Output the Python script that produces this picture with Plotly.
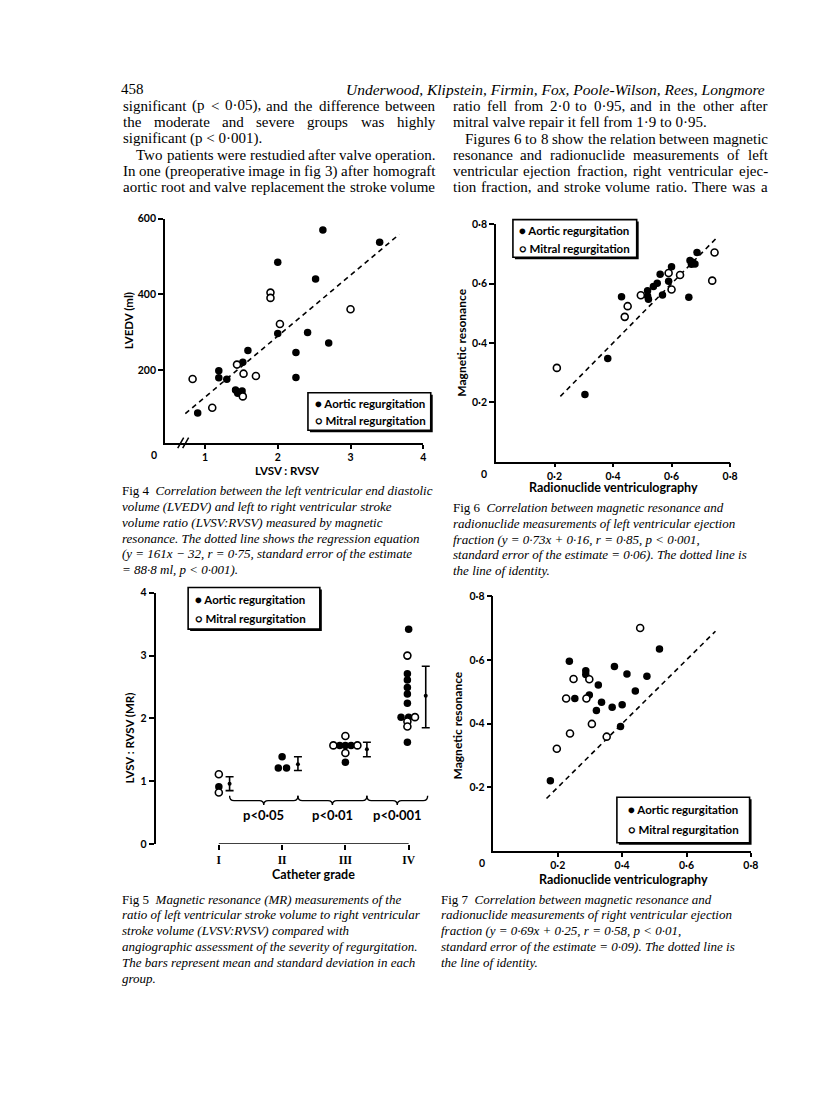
import plotly.graph_objects as go

W, H = 816, 1093
SANS = "Lato"
SERIF = "Liberation Serif"

# ------------------------------------------------------------------ data
# Fig 4 : LVEDV (ml) against LVSV:RVSV
f4_aortic_x = [2.00, 2.62, 3.40, 2.52, 2.00, 2.41, 2.70, 2.25, 2.25, 1.59, 1.52, 1.19, 1.19, 1.30, 1.42, 1.45, 1.51, 0.90]
f4_aortic_y = [485, 570, 538, 441, 297, 300, 272, 247, 181, 252, 221, 199, 180, 176, 148, 139, 145, 87]
f4_mitral_x = [1.90, 1.90, 2.03, 3.00, 1.44, 1.53, 1.70, 0.83, 1.10, 1.52]
f4_mitral_y = [405, 391, 322, 361, 215, 191, 185, 177, 101, 131]
f4_reg_slope, f4_reg_icpt = 161, -32
f4_reg_x = [0.73, 3.67]
f4_xticks = [1, 2, 3, 4]
f4_yticks = [200, 400, 600]

# Fig 6 : LV ejection fraction, MR vs radionuclide
f6_aortic_x = [0.304, 0.382, 0.429, 0.518, 0.518, 0.521, 0.538, 0.551, 0.561, 0.569, 0.590, 0.600, 0.659, 0.663, 0.672, 0.680, 0.668, 0.687]
f6_aortic_y = [0.226, 0.348, 0.556, 0.576, 0.558, 0.547, 0.590, 0.601, 0.632, 0.562, 0.608, 0.657, 0.554, 0.678, 0.672, 0.666, 0.665, 0.705]
f6_mitral_x = [0.208, 0.440, 0.450, 0.495, 0.590, 0.600, 0.629, 0.739, 0.747]
f6_mitral_y = [0.316, 0.488, 0.524, 0.561, 0.636, 0.580, 0.629, 0.610, 0.705]
f6_ident = [0.22, 0.755]

# Fig 5 : LVSV:RVSV (MR) by catheter grade
f5_grade_vals = [1, 2, 3, 4]
f5_grade_text = ["I", "II", "III", "IV"]
f5_aortic_x = [1.00, 2.00, 1.94, 2.07, 2.91, 3.00, 3.09, 3.00, 4.00, 3.98, 3.98, 3.98, 3.98, 3.98, 3.88, 4.00, 3.98]
f5_aortic_y = [0.91, 1.39, 1.21, 1.21, 1.57, 1.57, 1.57, 1.30, 3.42, 2.71, 2.61, 2.49, 2.39, 2.24, 2.02, 2.02, 1.62]
f5_mitral_x = [1.00, 1.00, 2.81, 3.19, 3.00, 3.00, 3.98, 4.10, 3.98, 3.98]
f5_mitral_y = [1.11, 0.82, 1.57, 1.57, 1.72, 1.45, 3.00, 2.02, 1.95, 1.87]
f5_bar_x = [1.17, 2.25, 3.34, 4.27]
f5_mean = [0.96, 1.27, 1.51, 2.36]
f5_sd_up = [0.11, 0.12, 0.11, 0.47]
f5_sd_down = [0.11, 0.10, 0.12, 0.51]
f5_p_text = ["p<0·05", "p<0·01", "p<0·001"]

# Fig 7 : RV ejection fraction, MR vs radionuclide
f7_aortic_x = [0.177, 0.253, 0.236, 0.287, 0.287, 0.298, 0.326, 0.320, 0.336, 0.376, 0.369, 0.400, 0.395, 0.415, 0.441, 0.477, 0.516]
f7_aortic_y = [0.221, 0.479, 0.596, 0.566, 0.554, 0.490, 0.521, 0.441, 0.467, 0.579, 0.451, 0.459, 0.391, 0.556, 0.502, 0.549, 0.634]
f7_mitral_x = [0.197, 0.238, 0.226, 0.249, 0.289, 0.298, 0.306, 0.352, 0.456]
f7_mitral_y = [0.321, 0.369, 0.479, 0.540, 0.479, 0.539, 0.399, 0.359, 0.700]
f7_ident = [0.165, 0.69]

ef_ticks = [0.2, 0.4, 0.6, 0.8]
ef_ticktext = ["0·2", "0·4", "0·6", "0·8"]

# ------------------------------------------------------------------ page text
body_left = [
    "significant (p < 0·05), and the difference between",
    "the moderate and severe groups was highly",
    "significant (p < 0·001).",
    "Two patients were restudied after valve operation.",
    "In one (preoperative image in fig 3) after homograft",
    "aortic root and valve replacement the stroke volume",
]
body_right = [
    "ratio fell from 2·0 to 0·95, and in the other after",
    "mitral valve repair it fell from 1·9 to 0·95.",
    "Figures 6 to 8 show the relation between magnetic",
    "resonance and radionuclide measurements of left",
    "ventricular ejection fraction, right ventricular ejec-",
    "tion fraction, and stroke volume ratio. There was a",
]
body_left_indent = [False, False, False, True, False, False]
body_left_justify = [True, True, False, True, True, True]
body_right_indent = [False, False, True, False, False, False]
body_right_justify = [True, False, True, True, True, True]

cap4 = ["Fig\u00a04\u2002<i>Correlation between the left ventricular end diastolic</i>",
        "<i>volume (LVEDV) and left to right ventricular stroke</i>",
        "<i>volume ratio (LVSV:RVSV) measured by magnetic</i>",
        "<i>resonance. The dotted line shows the regression equation</i>",
        "<i>(y = 161x − 32, r = 0·75, standard error of the estimate</i>",
        "<i>= 88·8 ml, p < 0·001).</i>"]
cap6 = ["Fig\u00a06\u2002<i>Correlation between magnetic resonance and</i>",
        "<i>radionuclide measurements of left ventricular ejection</i>",
        "<i>fraction (y = 0·73x + 0·16, r = 0·85, p < 0·001,</i>",
        "<i>standard error of the estimate = 0·06). The dotted line is</i>",
        "<i>the line of identity.</i>"]
cap5 = ["Fig\u00a05\u2002<i>Magnetic resonance (MR) measurements of the</i>",
        "<i>ratio of left ventricular stroke volume to right ventricular</i>",
        "<i>stroke volume (LVSV:RVSV) compared with</i>",
        "<i>angiographic assessment of the severity of regurgitation.</i>",
        "<i>The bars represent mean and standard deviation in each</i>",
        "<i>group.</i>"]
cap7 = ["Fig\u00a07\u2002<i>Correlation between magnetic resonance and</i>",
        "<i>radionuclide measurements of right ventricular ejection</i>",
        "<i>fraction (y = 0·69x + 0·25, r = 0·58, p < 0·01,</i>",
        "<i>standard error of the estimate = 0·09). The dotted line is</i>",
        "<i>the line of identity.</i>"]


# ------------------------------------------------------------------ layout helpers
def dom_x(v1, p1, v2, p2, lo, hi):
    k = (p2 - p1) / (v2 - v1)
    return [(p1 + (lo - v1) * k) / W, (p1 + (hi - v1) * k) / W]


def dom_y(v1, p1, v2, p2, lo, hi):
    k = (p2 - p1) / (v2 - v1)
    return [1 - (p1 + (lo - v1) * k) / H, 1 - (p1 + (hi - v1) * k) / H]


def px(x):
    return x / W


def py(y):
    return 1 - y / H


AX = {
    "4": dict(x=(1, 207, 4, 427.5, 0.45, 4.0), y=(200, 368.3, 400, 291.7, 8, 600)),
    "6": dict(x=(0.2, 560, 0.8, 737.3, 0, 0.8), y=(0.2, 400.7, 0.6, 280.7, 0, 0.8)),
    "5": dict(x=(1, 221, 4, 412.7, 0, 4.45), y=(0, 847.3, 4, 593.3, 0, 4)),
    "7": dict(x=(0.2, 563.3, 0.8, 758.3, 0, 0.8), y=(0.2, 790, 0.8, 596.7, 0, 0.8)),
}
AXNAME = {"4": "", "6": "2", "5": "3", "7": "4"}

fig = go.Figure()

filled = dict(color="black", size=7.5, line=dict(color="black", width=0))
hollow = dict(color="white", size=7, line=dict(color="black", width=1.6))
dash_line = dict(color="black", width=1.6, dash="5px,4px")


def add_pts(key, ax, ay, mx, my):
    n = AXNAME[key]
    fig.add_trace(go.Scatter(x=ax, y=ay, mode="markers", marker=filled,
                             xaxis="x" + n, yaxis="y" + n, showlegend=False, name="Aortic regurgitation"))
    fig.add_trace(go.Scatter(x=mx, y=my, mode="markers", marker=hollow,
                             xaxis="x" + n, yaxis="y" + n, showlegend=False, name="Mitral regurgitation"))


# Fig 4
fig.add_trace(go.Scatter(x=f4_reg_x, y=[f4_reg_slope * v + f4_reg_icpt for v in f4_reg_x], mode="lines",
                         line=dash_line, xaxis="x", yaxis="y", showlegend=False))
add_pts("4", f4_aortic_x, f4_aortic_y, f4_mitral_x, f4_mitral_y)
# Fig 6
fig.add_trace(go.Scatter(x=f6_ident, y=f6_ident, mode="lines", line=dash_line,
                         xaxis="x2", yaxis="y2", showlegend=False))
add_pts("6", f6_aortic_x, f6_aortic_y, f6_mitral_x, f6_mitral_y)
# Fig 7
fig.add_trace(go.Scatter(x=f7_ident, y=f7_ident, mode="lines", line=dash_line,
                         xaxis="x4", yaxis="y4", showlegend=False))
add_pts("7", f7_aortic_x, f7_aortic_y, f7_mitral_x, f7_mitral_y)
# Fig 5
add_pts("5", f5_aortic_x, f5_aortic_y, f5_mitral_x, f5_mitral_y)
fig.add_trace(go.Scatter(x=f5_bar_x, y=f5_mean, mode="markers",
                         marker=dict(color="black", size=4),
                         error_y=dict(type="data", symmetric=False, array=f5_sd_up, arrayminus=f5_sd_down,
                                      color="black", thickness=1.6, width=4),
                         xaxis="x3", yaxis="y3", showlegend=False))

tickfont = dict(family=SANS, size=10.5, color="black", weight="bold")
base_axis = dict(showline=True, linecolor="black", linewidth=1.6, ticks="outside", ticklen=5,
                 tickwidth=1.5, tickcolor="black", showgrid=False, zeroline=False,
                 tickfont=tickfont, fixedrange=True)

layout_axes = {}
for key, spec in AX.items():
    n = AXNAME[key]
    xs, ys = spec["x"], spec["y"]
    xa = dict(base_axis, domain=dom_x(*xs), range=[xs[4], xs[5]], anchor="y" + n)
    ya = dict(base_axis, domain=dom_y(*ys), range=[ys[4], ys[5]], anchor="x" + n)
    layout_axes["xaxis" + n] = xa
    layout_axes["yaxis" + n] = ya

layout_axes["xaxis"].update(tickvals=f4_xticks, ticktext=[str(v) for v in f4_xticks], ticklen=4)
layout_axes["yaxis"].update(tickvals=f4_yticks, ticktext=[str(v) for v in f4_yticks])
for n in ("2", "4"):
    layout_axes["xaxis" + n].update(tickvals=ef_ticks, ticktext=ef_ticktext, ticklen=4)
    layout_axes["yaxis" + n].update(tickvals=ef_ticks, ticktext=ef_ticktext)
layout_axes["xaxis3"].update(tickvals=f5_grade_vals, ticktext=f5_grade_text, showline=False, ticklen=5,
                             tickfont=dict(family=SERIF, size=11.5, color="black", weight="bold"))
layout_axes["yaxis3"].update(tickvals=[0, 1, 2, 3, 4], ticktext=["0", "1", "2", "3", "4"])

fig.update_layout(width=W, height=H, margin=dict(l=0, r=0, t=0, b=0),
                  paper_bgcolor="white", plot_bgcolor="rgba(0,0,0,0)", showlegend=False,
                  **layout_axes)

shapes = []
annotations = []
# Fig 5 detached x axis line from grade I to IV
shapes.append(dict(type="line", xref="x3", yref="y3", x0=f5_grade_vals[0], x1=f5_grade_vals[-1], y0=0, y1=0,
                   line=dict(color="black", width=1.6)))


# braces between groups (Fig 5)
def brace(xa, xb, yl=0.69, ytip=0.62, ytop=0.77, d=0.07):
    xm = (xa + xb) / 2
    return (f"M {xa},{ytop} Q {xa},{yl} {xa + d},{yl} L {xm - d},{yl} Q {xm},{yl} {xm},{ytip} "
            f"Q {xm},{yl} {xm + d},{yl} L {xb - d},{yl} Q {xb},{yl} {xb},{ytop}")


brace_ends = [f5_bar_x[0], f5_bar_x[1], f5_bar_x[2], f5_bar_x[3] + 0.03]
for i, label in enumerate(f5_p_text):
    xa, xb = brace_ends[i], brace_ends[i + 1]
    shapes.append(dict(type="path", xref="x3", yref="y3", path=brace(xa, xb),
                       line=dict(color="black", width=1.4)))
    annotations.append(dict(x=(xa + xb) / 2, y=0.46, xref="x3", yref="y3", text=label, showarrow=False,
                            font=dict(family=SANS, size=13, color="black", weight="bold")))

# Fig 4 axis break marks
for off in (-2.5, 2.5):
    cx = 185 + off
    shapes.append(dict(type="line", xref="paper", yref="paper", x0=px(cx - 3), x1=px(cx + 3),
                       y0=py(447), y1=py(436.5), line=dict(color="black", width=1.5)))


# legends
def legend_box(x0, y0, x1, y1, rows_y, tx):
    shapes.append(dict(type="rect", xref="paper", yref="paper", x0=px(x0 + 2), x1=px(x1 + 2),
                       y0=py(y1 + 2), y1=py(y0 + 2), fillcolor="black", line=dict(width=0)))
    shapes.append(dict(type="rect", xref="paper", yref="paper", x0=px(x0), x1=px(x1),
                       y0=py(y1), y1=py(y0), fillcolor="white", line=dict(color="black", width=1.6)))
    for ry, t in zip(rows_y, ["● Aortic regurgitation", "○ Mitral regurgitation"]):
        annotations.append(dict(x=px(tx), y=py(ry), xref="paper", yref="paper", text=t, showarrow=False,
                                xanchor="left", yanchor="middle",
                                font=dict(family=SANS, size=11.5, color="black", weight="bold")))


legend_box(311, 391, 435, 429, [401.5, 419.5], 316)
legend_box(518, 216, 643, 254, [227, 245], 522)
legend_box(190, 588, 323, 630, [600, 619], 195)
legend_box(623, 800, 757, 846, [812.5, 832.5], 632)


def ann(text, x, y, size=12, family=SANS, xanchor="center", yanchor="middle", angle=0, weight="bold"):
    annotations.append(dict(x=px(x), y=py(y), xref="paper", yref="paper", text=text, showarrow=False,
                            xanchor=xanchor, yanchor=yanchor, textangle=angle, borderpad=0,
                            font=dict(family=family, size=size, color="black", weight=weight)))


# axis titles and corner zeros
ann("LVEDV (ml)", 130, 318, 11.5, angle=-90)
ann("LVSV : RVSV", 290, 470, 11.5)
ann("0", 156, 454, 10.5)
ann("Magnetic resonance", 466, 340, 12, angle=-90)
ann("Radionuclide ventriculography", 620, 487, 12.5)
ann("0", 489, 473, 10.5)
ann("LVSV : RVSV (MR)", 131, 740, 11.5, angle=-90)
ann("Catheter grade", 317, 878, 12.5)
ann("Magnetic resonance", 462, 727, 12, angle=-90)
ann("Radionuclide ventriculography", 630, 883, 12.5)
ann("0", 487, 867, 10.5)

# ---------------- running head and justified body text
TIMES_W = {" ": 250, "(": 333, ")": 333, ",": 250, "-": 333, ".": 250, ":": 278, "<": 564, "=": 564,
           "·": 250, "F": 556, "I": 333, "T": 611,
           "a": 444, "b": 500, "c": 444, "d": 500, "e": 444, "f": 333, "g": 500, "h": 500, "i": 278,
           "j": 278, "k": 500, "l": 278, "m": 778, "n": 500, "o": 500, "p": 500, "q": 500, "r": 333,
           "s": 389, "t": 278, "u": 500, "v": 500, "w": 722, "x": 500, "y": 500, "z": 444}


def tw(s, size):
    return sum(TIMES_W.get(c, 500) for c in s) * size / 1000.0


BODY_SIZE = 15
ann("458", 121, 84, 15, SERIF, xanchor="left", weight="normal")
ann("<i>Underwood, Klipstein, Firmin, Fox, Poole-Wilson, Rees, Longmore</i>", 774, 84, 15.5, SERIF,
    xanchor="right", weight="normal")


def body_column(lines, indents, justs, x0, x1, ys):
    for line, ind, jus, y in zip(lines, indents, justs, ys):
        left = x0 + (13 if ind else 0)
        words = line.split(" ")
        if not jus or len(words) < 2:
            ann(line, left, y, BODY_SIZE, SERIF, xanchor="left", weight="normal")
            continue
        total = sum(tw(w, BODY_SIZE) for w in words)
        gap = (x1 - left - total) / (len(words) - 1)
        x = left
        for w in words:
            ann(w, x, y, BODY_SIZE, SERIF, xanchor="left", weight="normal")
            x += tw(w, BODY_SIZE) + gap


body_y = [101, 117.5, 134, 150.5, 167, 183.5]
body_column(body_left, body_left_indent, body_left_justify, 123, 438, body_y)
body_column(body_right, body_right_indent, body_right_justify, 456, 774, body_y)

for lines, x0, y0 in ((cap4, 122, 490), (cap6, 456, 507), (cap5, 122, 903), (cap7, 444, 903)):
    for i, t in enumerate(lines):
        ann(t, x0, y0 + 16 * i, 13, SERIF, xanchor="left", weight="normal")

fig.update_layout(shapes=shapes, annotations=annotations)
fig.write_html("out.html", config={"displayModeBar": False},
               post_script="document.body.style.margin='0';")
